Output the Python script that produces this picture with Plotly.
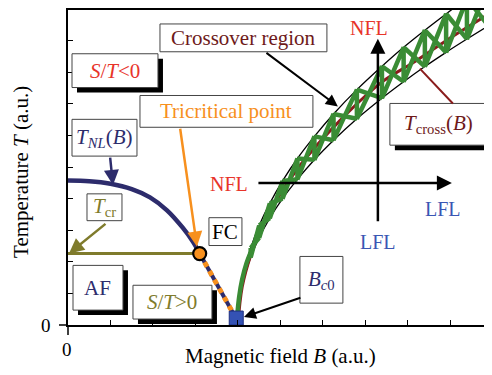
import plotly.graph_objects as go

# ---------------- data ----------------
af_B = [0.0, 0.5, 1.0, 1.5, 1.93, 2.33, 2.7, 2.95, 3.1]
af_T = [4.57, 4.55, 4.47, 4.3, 4.04, 3.63, 3.08, 2.62, 2.26]

first_order_B = [3.1, 3.95]
first_order_T = [2.26, 0.22]

tcr_B = [0.0, 3.1]
tcr_T = [2.26, 2.26]

tricritical_B = [3.1]
tricritical_T = [2.26]

bc0_B = [3.96]
bc0_T = [0.22]

upper_B = [4.0, 4.02, 4.08, 4.18, 4.3, 4.5, 4.75, 5.05, 5.4, 5.8, 6.25, 6.8, 7.39, 7.9, 8.4, 9.05]
upper_T = [0.0, 0.63, 1.26, 1.89, 2.44, 3.15, 3.85, 4.56, 5.27, 5.97, 6.68, 7.45, 8.19, 8.79, 9.33, 10.0]

lower_B = [4.0, 4.03, 4.1, 4.2, 4.3, 4.5, 4.75, 5.05, 5.4, 5.8, 6.25, 6.8, 7.39, 7.9, 8.4, 8.9, 9.39, 9.98]
lower_T = [0.0, 0.68, 1.23, 1.74, 2.14, 2.76, 3.38, 4.0, 4.61, 5.23, 5.85, 6.53, 7.18, 7.7, 8.18, 8.63, 9.05, 9.54]

cross_B = [4.0, 4.1, 4.3, 4.6, 5.0, 5.46, 6.4, 7.41, 8.12, 8.9, 9.98]
cross_T = [0.0, 1.2, 2.2, 3.2, 4.15, 5.05, 6.47, 7.71, 8.3, 9.0, 9.9]

green_tail_B = [3.98, 4.03, 4.1, 4.2, 4.3]
green_tail_T = [0.25, 0.9, 1.45, 1.95, 2.3]

rung_B = [4.3, 4.5, 4.75, 5.05, 5.4, 5.8, 6.25, 6.8, 7.39, 7.9, 8.4, 8.9, 9.39, 9.9]
rung_upper_T = [2.44, 3.15, 3.85, 4.56, 5.27, 5.97, 6.68, 7.45, 8.19, 8.79, 9.33, 9.85, 10.33, 10.81]
rung_lower_T = [2.14, 2.76, 3.38, 4.0, 4.61, 5.23, 5.85, 6.53, 7.18, 7.7, 8.18, 8.63, 9.05, 9.47]

# ------------- helpers: window pixel -> axis / paper position (layout items) -------------
PX0, PY0, UX, UY = 68, 325, 42.5, 31.8
PLOT_W, PLOT_H = 424, 317

def X(p):
    return (p - PX0) / UX

def Y(p):
    return (PY0 - p) / UY

def PXp(p):
    return (p - PX0) / PLOT_W

def PYp(p):
    return (PY0 - p) / PLOT_H

NAVY = '#2d2c6c'
OLIVE = '#7f7b2c'
ORANGE = '#f7901e'
GREEN = '#3a8c35'
BROWN = '#8a1c1c'
DARKRED = '#6e1a1a'
RED = '#e8342a'
BLUE = '#3a56b3'
FONT = 'Liberation Serif'

fig = go.Figure()

def line(x, y, color, width, shape='linear', dash=None):
    fig.add_trace(go.Scatter(x=x, y=y, mode='lines',
                             line=dict(color=color, width=width, shape=shape, dash=dash),
                             hoverinfo='skip', showlegend=False))

line(tcr_B, tcr_T, OLIVE, 3)
line(af_B, af_T, NAVY, 4.5, 'spline')
line(first_order_B, first_order_T, NAVY, 4)
line(first_order_B, first_order_T, ORANGE, 5, dash='5px,5px')
line(upper_B, upper_T, 'black', 1.3, 'spline')
line(lower_B, lower_T, 'black', 1.3, 'spline')
line(cross_B, cross_T, BROWN, 3, 'spline')
line(green_tail_B, green_tail_T, GREEN, 4.5, 'spline')

# green ladder: rungs + crossing diagonals
zx, zy = [], []
for i in range(len(rung_B)):
    zx += [rung_B[i], rung_B[i]]
    zy += [rung_upper_T[i], rung_lower_T[i]]
line(zx, zy, GREEN, 4.5)
dx, dy = [], []
for i in range(len(rung_B) - 1):
    dx += [rung_B[i], rung_B[i + 1], None]
    dy += [rung_upper_T[i], rung_lower_T[i + 1], None]
line(dx, dy, GREEN, 4.5)

fig.add_trace(go.Scatter(x=tricritical_B, y=tricritical_T, mode='markers',
                         marker=dict(color=ORANGE, size=13, line=dict(color='black', width=2.2)),
                         hoverinfo='skip', showlegend=False))
fig.add_trace(go.Scatter(x=bc0_B, y=bc0_T, mode='markers',
                         marker=dict(color='#3452b4', size=14, symbol='square',
                                     line=dict(color='#1e2f80', width=1)),
                         hoverinfo='skip', showlegend=False, cliponaxis=False))

shapes = []
annotations = []

def box(x0, y0, x1, y1, text, color, shadow=False, size=21):
    if shadow:
        shapes.append(dict(type='rect', xref='x', yref='y', x0=X(x0 + 5), x1=X(x1 + 5),
                           y0=Y(y0 + 5), y1=Y(y1 + 5), fillcolor='black',
                           line=dict(width=0)))
    shapes.append(dict(type='rect', xref='x', yref='y', x0=X(x0), x1=X(x1), y0=Y(y0), y1=Y(y1),
                       fillcolor='white', line=dict(color='#444444', width=1)))
    annotations.append(dict(x=X((x0 + x1) / 2), y=Y((y0 + y1) / 2), xref='x', yref='y',
                            text=text, showarrow=False,
                            font=dict(family=FONT, size=size, color=color)))

def arrow(tx, ty, hx, hy, color, width=2, head=2, size=1.0):
    annotations.append(dict(x=X(hx), y=Y(hy), ax=X(tx), ay=Y(ty), xref='x', yref='y',
                            axref='x', ayref='y', text='', showarrow=True,
                            arrowhead=head, arrowsize=size, arrowwidth=width,
                            arrowcolor=color, standoff=0, startstandoff=0))

def label(px, py, text, color, size=21, angle=0):
    annotations.append(dict(x=X(px), y=Y(py), xref='x', yref='y', text=text,
                            showarrow=False, textangle=angle,
                            font=dict(family=FONT, size=size, color=color)))

box(160, 22, 327, 50, 'Crossover region', DARKRED)
box(72, 52, 158, 86, '<i>S</i>/<i>T</i>&lt;0', RED, shadow=True)
box(140, 94, 313, 126, 'Tricritical point', ORANGE)
box(72, 118, 137, 155, '<i>T</i><sub><i>NL</i></sub>(<i>B</i>)', NAVY)
box(87, 193, 122, 220, '<i>T</i><sub>cr</sub>', OLIVE)
box(209, 217, 242, 245, 'FC', 'black')
box(73, 265, 123, 310, 'AF', NAVY, shadow=True)
box(133, 285, 212, 319, '<i>S</i>/<i>T</i>&gt;0', OLIVE, shadow=True)
box(300, 256, 343, 303, '<i>B</i><sub><i>c</i>0</sub>', NAVY)
box(390, 102, 487, 144, '<i>T</i><sub>cross</sub>(<i>B</i>)', DARKRED, shadow=True)

# connector from T_cross box to the band
shapes.append(dict(type='line', xref='x', yref='y', x0=X(453), y0=Y(102), x1=X(420), y1=Y(67),
                   line=dict(color=BROWN, width=2)))

arrow(265, 50, 338, 105, 'black', 2, 2, 1.2)
arrow(180, 126, 197, 246, ORANGE, 2.5, 2, 1.2)
arrow(110, 155, 113, 184, NAVY, 2.5, 2, 1.2)
arrow(107, 222, 69, 253, OLIVE, 2.5, 2, 1.2)
arrow(302, 297, 244, 317, 'black', 2, 2, 1.2)
arrow(378, 222, 378, 37, 'black', 2.5, 2, 1.2)
arrow(257, 182, 452, 182, 'black', 2.5, 2, 1.2)

label(369, 26, 'NFL', RED, 20)
label(229, 183, 'NFL', RED, 20)
label(378, 241, 'LFL', BLUE, 20)
label(443, 208, 'LFL', BLUE, 20)

# axis titles and zero labels
annotations.append(dict(x=PXp(280), y=PYp(356), xref='paper', yref='paper',
                        text='Magnetic field <i>B</i> (a.u.)', showarrow=False,
                        xanchor='center', yanchor='middle',
                        font=dict(family=FONT, size=21, color='black')))
annotations.append(dict(x=PXp(21), y=PYp(171), xref='paper', yref='paper',
                        text='Temperature <i>T</i> (a.u.)', showarrow=False, textangle=-90,
                        xanchor='center', yanchor='middle',
                        font=dict(family=FONT, size=21, color='black')))
annotations.append(dict(x=PXp(46), y=PYp(325), xref='paper', yref='paper', text='0',
                        showarrow=False, xanchor='center', yanchor='middle',
                        font=dict(family=FONT, size=19, color='black')))
annotations.append(dict(x=PXp(67), y=PYp(350), xref='paper', yref='paper', text='0',
                        showarrow=False, xanchor='center', yanchor='middle',
                        font=dict(family=FONT, size=19, color='black')))

# axis overhang at the origin
shapes.append(dict(type='line', xref='paper', yref='paper', x0=PXp(59), x1=0, y0=0, y1=0,
                   line=dict(color='black', width=1.5)))
shapes.append(dict(type='line', xref='paper', yref='paper', x0=0, x1=0, y0=PYp(335), y1=0,
                   line=dict(color='black', width=1.5)))

# the page body adds an 8 px offset; the figure is sized so the plot lands at the reference pixels
fig.update_layout(
    width=484, height=367,
    margin=dict(l=60, r=0, t=0, b=50),
    paper_bgcolor='white', plot_bgcolor='white',
    showlegend=False,
    shapes=shapes, annotations=annotations,
    xaxis=dict(range=[0, 9.98], showline=True, linecolor='black', linewidth=1.5,
               mirror=True, ticks='inside', ticklen=5, tickwidth=1, tickcolor='black',
               tick0=0, dtick=1, showticklabels=False, showgrid=False, zeroline=False),
    yaxis=dict(range=[0, 9.97], showline=True, linecolor='black', linewidth=1.5,
               ticks='inside', ticklen=5, tickwidth=1, tickcolor='black',
               tick0=0, dtick=1, showticklabels=False, showgrid=False, zeroline=False),
)

fig.write_html('out.html')
